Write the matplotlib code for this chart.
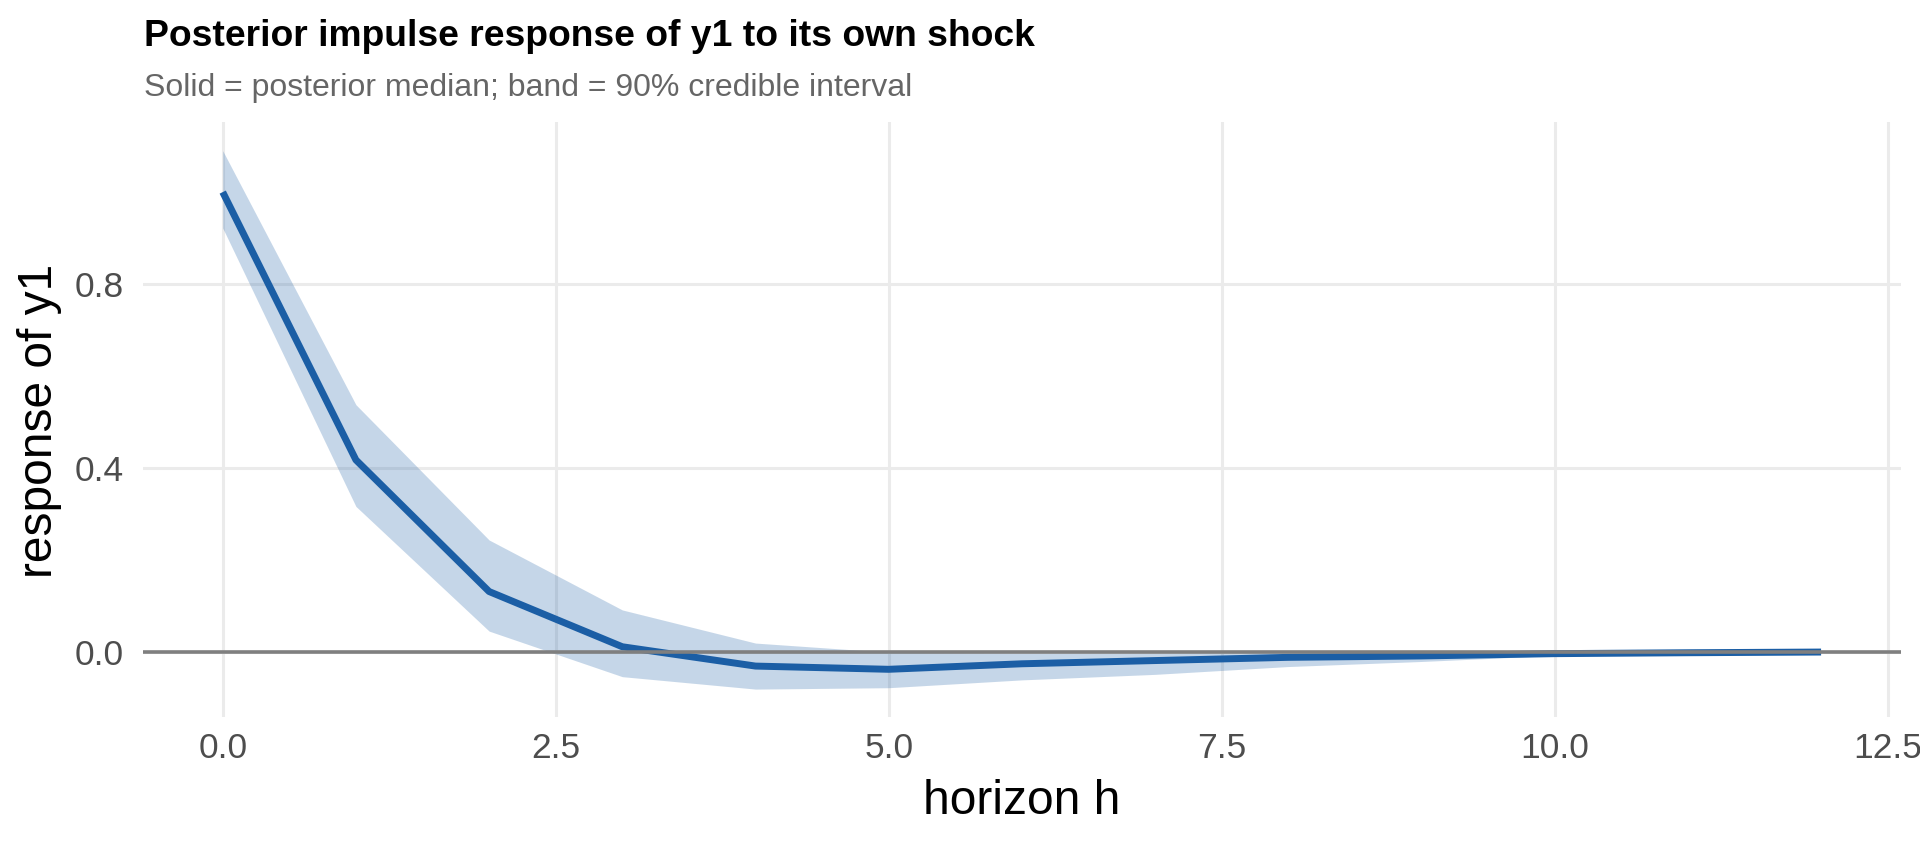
import matplotlib
matplotlib.use("Agg")
import matplotlib.pyplot as plt
import numpy as np

plt.rcParams['font.family'] = ['Liberation Sans', 'DejaVu Sans']

# ---- data ----
horizon = [0, 1, 2, 3, 4, 5, 6, 7, 8, 9, 10, 11, 12]
median = [1.000, 0.418, 0.132, 0.012, -0.030, -0.037, -0.025, -0.018, -0.011, -0.008, -0.003, -0.001, 0.0005]
lower = [0.922, 0.317, 0.046, -0.053, -0.080, -0.077, -0.060, -0.048, -0.031, -0.020, -0.007, -0.003, -0.001]
upper = [1.090, 0.538, 0.244, 0.092, 0.020, 0.000, -0.002, -0.002, -0.001, 0.001, 0.001, 0.001, 0.002]
x_ticks = [0.0, 2.5, 5.0, 7.5, 10.0, 12.5]
x_tick_labels = ["0.0", "2.5", "5.0", "7.5", "10.0", "12.5"]
y_ticks = [0.0, 0.4, 0.8]
y_tick_labels = ["0.0", "0.4", "0.8"]

title = "Posterior impulse response of y1 to its own shock"
subtitle = "Solid = posterior median; band = 90% credible interval"
xlabel = "horizon h"
ylabel = "response of y1"

line_color = "#1B5EA5"

W, H, DPI = 1920, 844, 100
fig = plt.figure(figsize=(W / DPI, H / DPI), dpi=DPI)
fig.patch.set_facecolor("white")

ax = fig.add_axes([142.8 / W, 1 - 716.7 / H, (1901 - 142.8) / W, (716.7 - 121.7) / H])
ax.set_facecolor("white")

ax.fill_between(horizon, lower, upper, color=line_color, alpha=0.25, linewidth=0, zorder=2)
ax.plot(horizon, median, color=line_color, linewidth=5.0, solid_capstyle="butt", zorder=3)
ax.axhline(0, color="#7F7F7F", linewidth=2.6, zorder=4)

ax.set_xlim(-0.6, 12.6)
ax.set_ylim(-0.140, 1.153)
ax.set_xticks(x_ticks)
ax.set_xticklabels(x_tick_labels)
ax.set_yticks(y_ticks)
ax.set_yticklabels(y_tick_labels)
ax.grid(True, color="#EBEBEB", linewidth=2.2, zorder=0)
ax.set_axisbelow(True)
for s in ax.spines.values():
    s.set_visible(False)
ax.tick_params(axis="both", length=0, labelsize=25.5, labelcolor="#4D4D4D")
ax.tick_params(axis="y", pad=13.5)
ax.tick_params(axis="x", pad=11)

fig.text(144 / W, 1 - 45.5 / H, title, fontsize=26.8, fontweight="bold", color="black",
         ha="left", va="baseline")
fig.text(144 / W, 1 - 96 / H, subtitle, fontsize=23, color="#666666",
         ha="left", va="baseline")
fig.text(1022 / W, 1 - 814 / H, xlabel, fontsize=34.5, color="black",
         ha="center", va="baseline")
fig.text(40 / W, 1 - 421 / H, ylabel, fontsize=34.5, color="black",
         ha="center", va="center", rotation=90)

fig.savefig("out.png", dpi=DPI, facecolor="white")
